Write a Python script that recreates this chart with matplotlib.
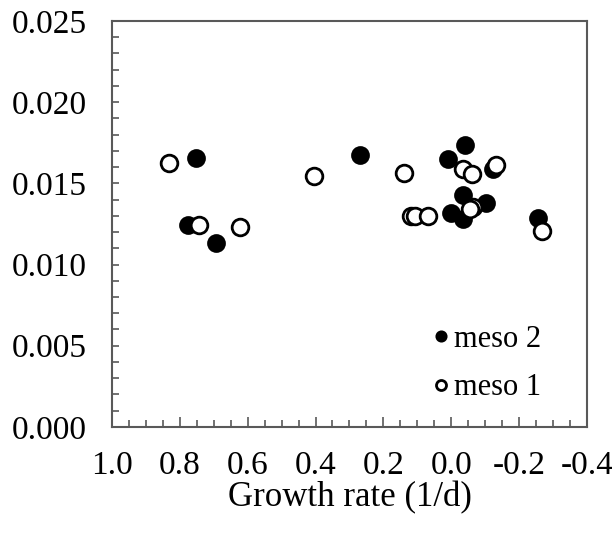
import matplotlib.pyplot as plt
from matplotlib.ticker import MultipleLocator, FormatStrFormatter

# Growth rate (1/d) and values
meso2_x = [0.752, 0.776, 0.693, 0.269, 0.010, -0.040, -0.034, -0.102,
           0.002, -0.034, -0.123, -0.256]
meso2_y = [0.01656, 0.01244, 0.01133, 0.01675, 0.01650, 0.01736, 0.01429,
           0.01379, 0.01318, 0.01281, 0.01589, 0.01287]

meso1_x = [0.832, 0.744, 0.623, 0.405, 0.139, 0.119, 0.107, 0.069,
           -0.034, -0.061, -0.132, -0.064, -0.055, -0.267]
meso1_y = [0.01626, 0.01244, 0.01232, 0.01546, 0.01564, 0.01299, 0.01299,
           0.01299, 0.01589, 0.01558, 0.01613, 0.01355, 0.01342, 0.01207]

plt.rcParams['font.family'] = ['Liberation Serif', 'DejaVu Serif']

fig = plt.figure(figsize=(6.12, 5.37), dpi=100)
ax = fig.add_axes([0.183, 0.205, 0.776, 0.756])

p2, = ax.plot(meso2_x, meso2_y, 'o', ms=12, mfc='black', mec='black',
              mew=1.5, label='meso 2')
p1, = ax.plot(meso1_x, meso1_y, 'o', ms=12, mfc='white', mec='black',
              mew=2.0, label='meso 1')

ax.set_xlim(1.0, -0.4)
ax.set_ylim(0, 0.025)

ax.xaxis.set_major_locator(MultipleLocator(0.2))
ax.xaxis.set_minor_locator(MultipleLocator(0.05))
ax.yaxis.set_major_locator(MultipleLocator(0.005))
ax.yaxis.set_minor_locator(MultipleLocator(0.001))
ax.xaxis.set_major_formatter(FormatStrFormatter('%.1f'))
ax.yaxis.set_major_formatter(FormatStrFormatter('%.3f'))

for s in ax.spines.values():
    s.set_color('#595959')
    s.set_linewidth(1.5)
ax.tick_params(which='both', direction='in', color='#595959', width=1.2,
               labelsize=24)
ax.tick_params(axis='x', which='major', length=7, pad=17)
ax.tick_params(axis='x', which='minor', length=5)
ax.tick_params(axis='y', which='both', length=5, pad=18)
ax.tick_params(top=False, right=False, which='both')

ax.set_xlabel('Growth rate (1/d)', fontsize=25, labelpad=0)

ax.legend(handles=[p2, p1], loc='upper left', bbox_to_anchor=(0.615, 0.32),
          frameon=False, fontsize=22, markerscale=0.6, handlelength=0.6,
          handletextpad=0.15, labelspacing=0.65)

fig.savefig('out.png', dpi=100)
